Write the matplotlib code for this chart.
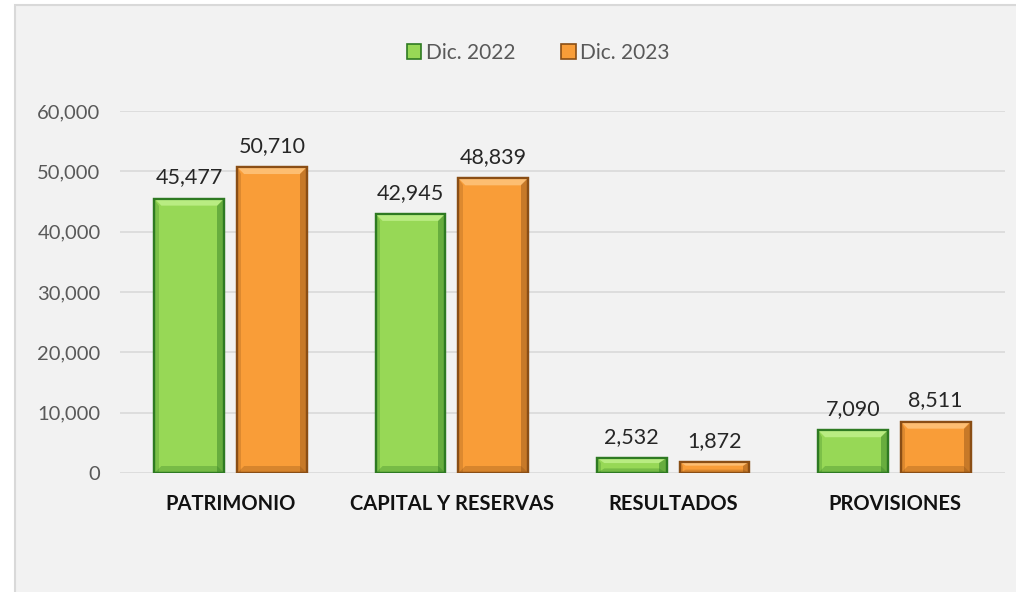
import numpy as np
import matplotlib.pyplot as plt
from matplotlib.patches import Polygon, Rectangle
from matplotlib.ticker import FuncFormatter

plt.rcParams.update({
    "font.family": ["Lato", "DejaVu Sans"],
})

# Data
categories = ["PATRIMONIO", "CAPITAL Y RESERVAS", "RESULTADOS", "PROVISIONES"]
dic_2022 = [45477, 42945, 2532, 7090]
dic_2023 = [50710, 48839, 1872, 8511]
series_labels = ["Dic. 2022", "Dic. 2023"]

green = "#97D856"
green_light = "#B9EC82"
green_dark = "#2E7A22"
orange = "#F99D38"
orange_light = "#FDBE72"
orange_dark = "#8A4E15"

fig = plt.figure(figsize=(10.16, 5.92), dpi=100)
fig.patch.set_facecolor("white")

# chart frame
frame = Rectangle((15 / 1016, -0.01), 1.0, 1 - 5 / 592 + 0.01,
                  transform=fig.transFigure, facecolor="#F2F2F2",
                  edgecolor="#D9D9D9", linewidth=1.5, zorder=-10)
fig.patches.append(frame)

ax = fig.add_axes([120 / 1016, 1 - 473 / 592, (1005 - 120) / 1016, (473 - 111) / 592])
ax.set_facecolor("none")

x = np.arange(len(categories))
width = 0.315
offset = 0.187

ax.set_xlim(-0.5, len(categories) - 0.5)
ax.set_ylim(0, 60000)

# pixel -> data scale for the bevels
px_x = 1.0 / 222
px_y = 60000 / 362
bev = 7


def bevel_bar(xc, h, base, light, dark):
    x0 = xc - width / 2
    x1 = xc + width / 2
    ax.bar(xc, h, width=width, color=base, edgecolor=dark, linewidth=1.6, zorder=3)
    bx = bev * px_x
    by = min(bev * px_y, h * 0.35)
    bx_eff = bx if by >= bev * px_y else bx * by / (bev * px_y) + bx * 0.3
    # top face highlight
    ax.add_patch(Polygon([(x0, h), (x1, h), (x1 - bx_eff, h - by), (x0 + bx_eff, h - by)],
                         closed=True, facecolor=light, edgecolor="none", zorder=4))
    # right side shading
    ax.add_patch(Polygon([(x1, h), (x1, 0), (x1 - bx_eff, 0), (x1 - bx_eff, h - by)],
                         closed=True, facecolor=dark, alpha=0.45, edgecolor="none", zorder=4))
    # left side shading
    ax.add_patch(Polygon([(x0, h), (x0, 0), (x0 + bx_eff * 0.6, 0), (x0 + bx_eff * 0.6, h - by)],
                         closed=True, facecolor=dark, alpha=0.25, edgecolor="none", zorder=4))
    # bottom lip
    ax.add_patch(Polygon([(x0, 0), (x1, 0), (x1 - bx_eff, min(by, h * 0.3)), (x0 + bx_eff, min(by, h * 0.3))],
                         closed=True, facecolor=dark, alpha=0.3, edgecolor="none", zorder=4))
    ax.add_patch(Rectangle((x0, 0), width, h, fill=False, edgecolor=dark, linewidth=1.6, zorder=5))


for i in range(len(categories)):
    bevel_bar(x[i] - offset, dic_2022[i], green, green_light, green_dark)
    bevel_bar(x[i] + offset, dic_2023[i], orange, orange_light, orange_dark)
    ax.annotate(f"{dic_2022[i]:,}", (x[i] - offset, dic_2022[i]), xytext=(0, 8),
                textcoords="offset points", ha="center", va="bottom",
                fontsize=15.5, color="#262626", zorder=6)
    ax.annotate(f"{dic_2023[i]:,}", (x[i] + offset, dic_2023[i]), xytext=(0, 8),
                textcoords="offset points", ha="center", va="bottom",
                fontsize=15.5, color="#262626", zorder=6)

# grid and axes
ax.set_yticks(np.arange(0, 60001, 10000))
ax.yaxis.set_major_formatter(FuncFormatter(lambda v, p: f"{int(v):,}"))
ax.grid(axis="y", color="#D9D9D9", linewidth=1.2, zorder=0)
ax.set_axisbelow(True)
for s in ax.spines.values():
    s.set_visible(False)
ax.tick_params(axis="y", length=0, pad=14, labelsize=14.5, labelcolor="#595959")
ax.tick_params(axis="x", length=0, pad=15)
ax.set_xticks(x)
ax.set_xticklabels(categories, fontsize=14.5, fontweight="bold", color="#111111")

# legend
handles = [Rectangle((0, 0), 1, 1, facecolor=green, edgecolor=green_dark, linewidth=1.2),
           Rectangle((0, 0), 1, 1, facecolor=orange, edgecolor=orange_dark, linewidth=1.2)]
leg = fig.legend(handles, series_labels, loc="center", bbox_to_anchor=(538 / 1016, 1 - 53 / 592),
                 ncol=2, frameon=False, fontsize=15, handlelength=0.7, handleheight=0.7,
                 handletextpad=0.2, columnspacing=2.2)
for t in leg.get_texts():
    t.set_color("#595959")

fig.savefig("out.png", dpi=100, facecolor=fig.get_facecolor())
